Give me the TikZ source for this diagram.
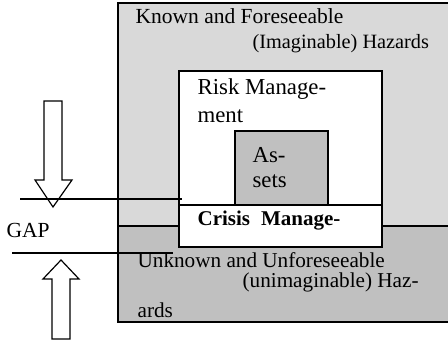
\documentclass[tikz,border=0pt]{standalone}
\usepackage{fontspec}
\setmainfont{Liberation Serif}
\definecolor{knowncol}{RGB}{217,217,217}
\definecolor{unknowncol}{RGB}{192,192,192}

\begin{document}
\begin{tikzpicture}[x=1pt, y=-1pt, line width=1.2pt,
  txt/.style={anchor=base west, inner sep=0pt, font=\fontsize{21.5}{26}\selectfont},
  blockarrow/.style={draw, fill=white, line join=miter}]
  \useasboundingbox (0,0) rectangle (448,342);
  % hazard zones
  \filldraw[fill=knowncol] (118,3) rectangle (449,226);
  \filldraw[fill=unknowncol] (118,226) rectangle (449,322);
  % management boxes
  \filldraw[fill=white] (179,71) rectangle (382,247);
  \filldraw[fill=unknowncol] (235,131) rectangle (328,205);
  \draw (179,205) -- (382,205);
  % gap arrows
  \draw[blockarrow] (44,101) -- (62,101) -- (62,180) -- (72,180) -- (53,207) -- (35,180) -- (44,180) -- cycle;
  \draw[blockarrow] (52,339) -- (70,339) -- (70,279) -- (79,279) -- (61,260) -- (43,279) -- (52,279) -- cycle;
  \draw (20,199) -- (182,199);
  \draw (12,253) -- (173,253);
  % labels
  \node[txt] (known) at (135,24) {Known and Foreseeable};
  \node[txt, font=\fontsize{20.3}{26}\selectfont] (imag) at (252,49) {(Imaginable) Hazards};
  \node[txt, font=\fontsize{22.8}{26}\selectfont] (risk) at (197,95) {Risk Manage-};
  \node[txt, font=\fontsize{22.8}{26}\selectfont] (ment) at (197,123) {ment};
  \node[txt, font=\fontsize{22.8}{26}\selectfont] (as) at (252,163) {As-};
  \node[txt, font=\fontsize{22.8}{26}\selectfont] (sets) at (252,188) {sets};
  \node[txt, font=\fontsize{21}{26}\selectfont\bfseries] (crisis) at (197,226) {Crisis\hspace{11pt}Manage-};
  \node[txt] (gap) at (6,238) {GAP};
  \node[txt, font=\fontsize{21.2}{26}\selectfont] (unknown) at (137,268) {Unknown and Unforeseeable};
  \node[txt, font=\fontsize{21.2}{26}\selectfont] (unimag) at (242,288) {(unimaginable) Haz-};
  \node[txt, font=\fontsize{21.2}{26}\selectfont] (ards) at (137,318) {ards};
\end{tikzpicture}
\end{document}
